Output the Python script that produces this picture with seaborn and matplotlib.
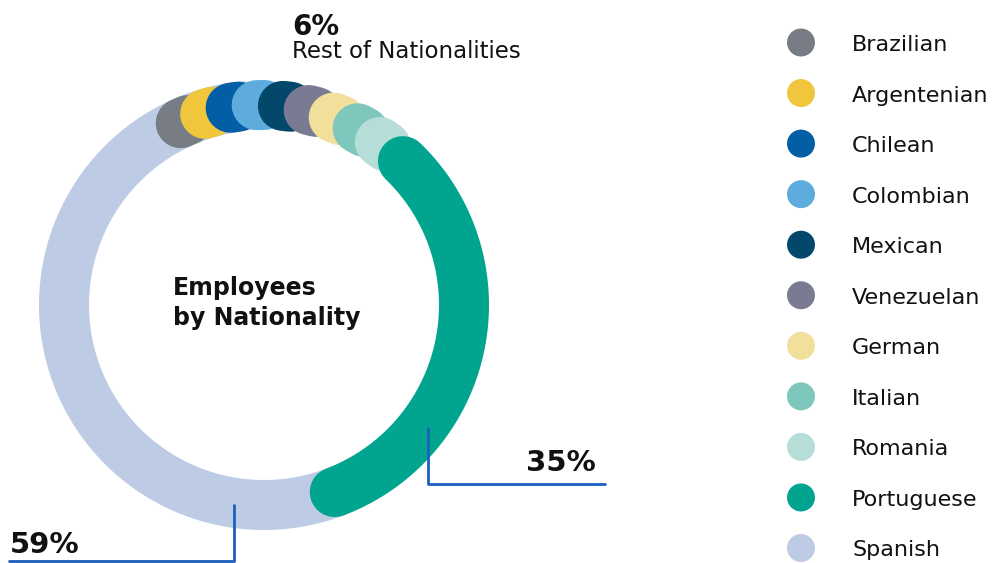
import numpy as np
import matplotlib
matplotlib.use("Agg")
import matplotlib.pyplot as plt
import seaborn as sns

# ---------------- data ----------------
small_names = ["Brazilian", "Argentenian", "Chilean", "Colombian", "Mexican",
               "Venezuelan", "German", "Italian", "Romania"]
small_values = [0.67, 0.67, 0.67, 0.67, 0.66, 0.67, 0.67, 0.66, 0.66]  # together 6%
main_names = ["Portuguese", "Spanish"]
main_values = [35, 59]
rest_total = 6
legend_order = small_names + main_names
colors = {
    "Brazilian": "#787c84", "Argentenian": "#f0c63c", "Chilean": "#025ea5",
    "Colombian": "#5eacdd", "Mexican": "#03476b", "Venezuelan": "#797b93",
    "German": "#f3df9c", "Italian": "#7ec7bd", "Romania": "#b6ddd8",
    "Portuguese": "#00a48f", "Spanish": "#bdcbe4",
}

# ---------------- style / layout ----------------
sns.set_theme(style="white")
plt.rcParams["font.family"] = ["DejaVu Sans"]
W, H = 996, 563
fig = plt.figure(figsize=(W / 100, H / 100), dpi=100)
ax = fig.add_axes([0, 0, 1, 1])
ax.set_xlim(0, W)
ax.set_ylim(H, 0)
ax.axis("off")

cx, cy, r = 264, 305, 200
band_lw = 36          # points (~50 px)
scale = 0.915         # angular scale of the two big arcs
start_angle = 44      # Portuguese start, degrees clockwise from top
dot_step = 7.5        # spacing of the small segments (exaggerated for visibility)


def arc_xy(a0, a1, n=200):
    t = np.deg2rad(np.linspace(a0, a1, n))
    return cx + r * np.sin(t), cy - r * np.cos(t)


def draw_arc(a0, a1, color, z):
    xs, ys = arc_xy(a0, a1)
    sns.lineplot(x=xs, y=ys, sort=False, estimator=None, color=color,
                 linewidth=band_lw, solid_capstyle="round", ax=ax, zorder=z)


por_sweep = main_values[0] / 100 * 360 * scale
spa_sweep = main_values[1] / 100 * 360 * scale
por_end = start_angle + por_sweep

# Spanish underneath
draw_arc(por_end, por_end + spa_sweep, colors["Spanish"], 1)
# small nationalities
n = len(small_names)
for i, (name, v) in enumerate(zip(small_names, small_values)):
    c = start_angle - (n - i) * dot_step
    half = v / 100 * 360 * scale / 2
    draw_arc(c - half, c + half, colors[name], 2 + i)
# Portuguese on top
draw_arc(start_angle, por_end, colors["Portuguese"], 20)

# ---------------- labels ----------------
blue = "#1b5fbf"
ax.plot([428, 428, 605], [428, 484, 484], color=blue, lw=2, zorder=30)
ax.plot([234, 234, 9], [505, 561, 561], color=blue, lw=2, zorder=30)
ax.text(596, 471, f"{main_values[0]}%", ha="right", va="baseline",
        fontsize=21, fontweight="bold", color="#111111")
ax.text(10, 553, f"{main_values[1]}%", ha="left", va="baseline",
        fontsize=21, fontweight="bold", color="#111111")
ax.text(292, 35, f"{rest_total}%", ha="left", va="baseline",
        fontsize=20, fontweight="bold", color="#111111")
ax.text(292, 58, "Rest of Nationalities", ha="left", va="baseline",
        fontsize=16.5, color="#111111")
ax.text(173, 295, "Employees", ha="left", va="baseline",
        fontsize=17, fontweight="bold", color="#111111")
ax.text(173, 325, "by Nationality", ha="left", va="baseline",
        fontsize=17, fontweight="bold", color="#111111")

# ---------------- legend ----------------
ly0, lstep = 42.5, 50.55
lx = [801] * len(legend_order)
ly = [ly0 + i * lstep for i in range(len(legend_order))]
sns.scatterplot(x=lx, y=ly, hue=legend_order, palette=colors, s=406,
                linewidth=0, legend=False, ax=ax, zorder=30)
for name, y in zip(legend_order, ly):
    ax.text(852, y + 8.5, name, ha="left", va="baseline", fontsize=16,
            color="#111111")

fig.savefig("out.png", dpi=100, facecolor="white")
